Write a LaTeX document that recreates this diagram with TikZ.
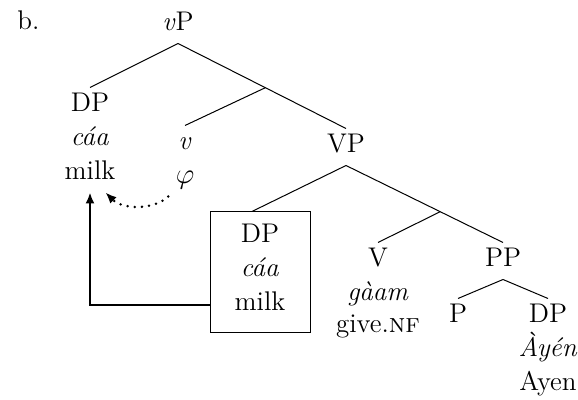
\documentclass[tikz,border=0pt]{standalone}
\usetikzlibrary{calc,arrows.meta}

\begin{document}
\begin{tikzpicture}[x=0.5pt,y=-0.5pt,line width=0.5pt,
    cat/.style={font=\fontsize{13.5}{15}\selectfont, anchor=base, text height=8.5pt, text depth=2.5pt, inner sep=3.5pt},
    move/.style={line width=1pt, -{Latex[length=5.5pt,width=4.5pt]}},
    dots/.style={line width=1.4pt, dash pattern=on 0pt off 3.6pt, line cap=round}]
    \useasboundingbox (0,0) rectangle (578,400);

    % example label
        \node[cat, anchor=base west] (b) at (10,30) {b.};

    % mark the labels of the tree
        \node[cat] (vP) at (178,31) {\textit{v}P};
        \node[cat] (DPa) at (90,112) {DP};
        \node[cat] (caa) at (90,146) {\textit{cáa}};
        \node[cat] (milk) at (90,180) {milk};
        \node[cat] (v) at (185,150) {\textit{v}};
        \node[cat] (phi) at (185,184) {$\varphi$};
        \node[cat] (VP) at (346,153) {VP};
        \node[cat] (V) at (378,267) {V};
        \node[cat] (gaam) at (378,301) {\textit{gàam}};
        \node[cat] (give) at (378,333) {give.\textsc{nf}};
        \node[cat] (PP) at (503,267) {PP};
        \node[cat] (P) at (458,323) {P};
        \node[cat] (DPc) at (548,323) {DP};
        \node[cat] (ayen) at (548,357) {\textit{Àyén}};
        \node[cat] (Ayen) at (548,391) {Ayen};

    % boxed copy of the object
        \node[draw, minimum width=50pt, minimum height=60.5pt, inner sep=0pt] (box) at (260,272.5) {};
        \node[cat] (DPb) at (260,243) {DP};
        \node[cat] (caab) at (260,277) {\textit{cáa}};
        \node[cat] (milkb) at (260,311) {milk};

    % draw branches
        \draw (vP.south) -- (DPa.north);
        \draw (vP.south) -- (VP.north);
        \coordinate (vbar) at ($(vP.south)!0.52!(VP.north)$);
        \draw (vbar) -- (v.north);
        \draw (VP.south) -- ($(box.north west)!0.42!(box.north east)$);
        \draw (VP.south) -- (PP.north);
        \coordinate (Vbar) at ($(VP.south)!0.6!(PP.north)$);
        \draw (Vbar) -- (V.north);
        \draw (PP.south) -- (P.north);
        \draw (PP.south) -- (DPc.north);

    % movement arrows
        \draw[move] (milkb -| box.west) -| (milk.south);
        \draw[move, dots] (phi.south west) .. controls +(-15,14) and +(17,17) .. (milk.-50);

\end{tikzpicture}
\end{document}
